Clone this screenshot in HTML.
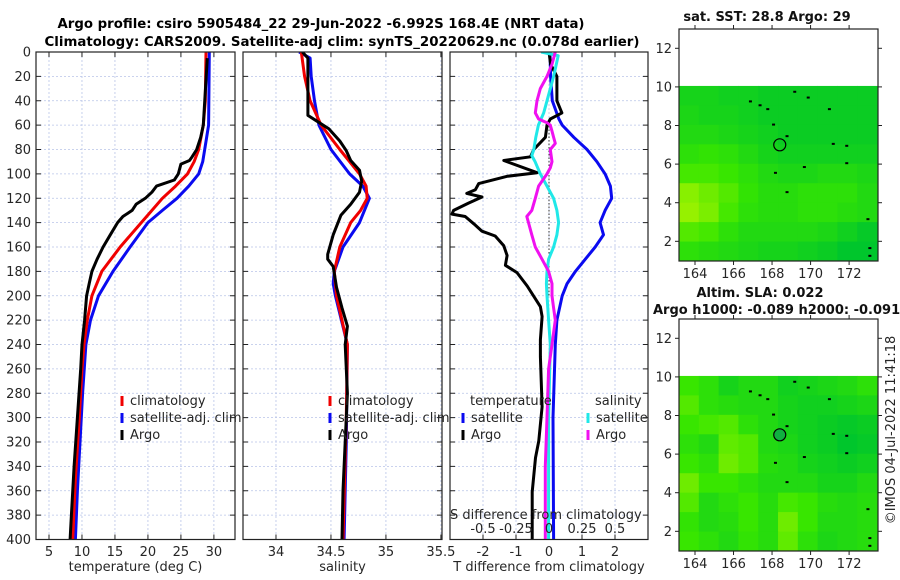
<!DOCTYPE html>
<html><head><meta charset="utf-8">
<style>
html,body{margin:0;padding:0;background:#fff;}
svg{display:block;font-family:"DejaVu Sans","Liberation Sans",sans-serif;}
</style></head>
<body>
<svg id="fig" width="900" height="580" viewBox="0 0 900 580" xmlns="http://www.w3.org/2000/svg">
<text x="321" y="28" text-anchor="middle" font-weight="bold" font-size="13" textLength="527" lengthAdjust="spacingAndGlyphs">Argo profile: csiro 5905484_22 29-Jun-2022 -6.992S 168.4E (NRT data)</text>
<text x="342" y="46" text-anchor="middle" font-weight="bold" font-size="13" textLength="595" lengthAdjust="spacingAndGlyphs">Climatology: CARS2009. Satellite-adj clim: synTS_20220629.nc (0.078d earlier)</text>
<g id="layer"></g>
</svg>
<script>
// ---------- data ----------
const depthTicks = [0,20,40,60,80,100,120,140,160,180,200,220,240,260,280,300,320,340,360,380,400];
const tTickVals = [5,10,15,20,25,30];
const sTickVals = [34,34.5,35,35.5];
const sTickLabels = ["34","34.5","35","35.5"];
const dTickVals = [-2,-1,0,1,2];
const sdTickVals = [-0.5,-0.25,0,0.25,0.5];
const sdTickLabels = ["-0.5","-0.25","0","0.25","0.5"];

// temperature profiles [depth, degC]
const tempClimDepth = [0,40,60,80,90,100,110,120,140,160,180,200,220,240,260,300,350,400];
const tempClimVal   = [28.8,28.7,28.4,27.7,27.0,26.0,24.2,22.2,19.0,15.8,13.0,11.5,10.8,10.3,10.0,9.6,9.0,8.6];
const tempSatDepth  = [0,60,80,90,100,110,120,130,140,160,180,200,220,240,280,320,360,400];
const tempSatVal    = [29.3,29.2,28.6,28.3,27.7,26.2,24.4,22.2,20.0,17.3,14.7,12.5,11.3,10.6,10.1,9.7,9.3,9.0];
const tempArgoDepth = [5,60,70,80,86,89,92,100,105,110,115,120,125,130,135,140,150,160,170,180,190,200,220,240,260,300,340,380,400];
const tempArgoVal   = [29.0,28.4,28.0,27.4,26.7,26.3,25.0,24.6,24.0,21.3,20.6,19.6,18.2,17.6,16.2,15.4,14.3,13.2,12.3,11.5,11.1,10.7,10.4,10.0,9.8,9.3,8.8,8.4,8.2];

// salinity profiles [depth, psu]
const salClimDepth = [0,20,40,60,80,100,110,120,130,140,160,180,200,240,300,400];
const salClimVal   = [34.23,34.26,34.31,34.41,34.58,34.76,34.82,34.83,34.77,34.68,34.58,34.53,34.55,34.65,34.64,34.61];
const salSatDepth  = [0,5,20,40,60,80,100,110,120,140,160,180,190,200,240,320,400];
const salSatVal    = [34.21,34.31,34.32,34.35,34.39,34.50,34.67,34.79,34.85,34.76,34.61,34.53,34.52,34.54,34.65,34.64,34.62];
const salArgoDepth = [0,5,40,52,56,63,73,81,89,97,106,115,125,134,150,166,170,176,193,210,225,240,280,320,360,400];
const salArgoVal   = [34.24,34.29,34.29,34.29,34.36,34.48,34.58,34.64,34.68,34.76,34.78,34.76,34.68,34.59,34.52,34.47,34.47,34.52,34.55,34.60,34.65,34.63,34.65,34.63,34.61,34.60];

// differences from climatology
const dTSatDepth  = [0,20,40,55,60,70,80,90,100,110,120,130,140,150,160,170,180,190,200,220,240,300,400];
const dTSatVal    = [0.03,0.05,0.1,0.3,0.4,0.75,1.15,1.45,1.7,1.86,1.9,1.7,1.55,1.65,1.4,1.1,0.8,0.55,0.4,0.24,0.19,0.12,0.14];
const dTArgoDepth = [0,10,20,40,50,55,60,70,80,86,89,99,102,108,113,116,119,124,130,133,135,141,147,151,159,167,175,181,192,209,217,236,250,291,319,333,361,400];
const dTArgoVal   = [0,0.05,0.24,0.24,0.39,0.04,-0.06,-0.11,-0.46,-0.56,-1.37,-0.36,-1.27,-2.13,-2.23,-2.49,-2.03,-2.44,-2.89,-2.94,-2.54,-2.28,-2.03,-1.63,-1.37,-1.27,-1.32,-0.97,-0.66,-0.26,-0.21,-0.26,-0.26,-0.21,-0.31,-0.41,-0.51,-0.51];
const dSSatDepth  = [0,3,20,40,50,60,70,80,85,90,100,110,120,130,140,150,160,170,180,190,200,220,240,300,400];
const dSSatVal    = [-0.06,0.07,0.035,-0.015,-0.04,-0.08,-0.1,-0.115,-0.13,-0.105,-0.066,-0.015,0.035,0.06,0.073,0.06,0.035,-0.003,-0.015,-0.02,-0.015,-0.003,0.01,-0.003,-0.003];
const dSArgoDepth = [0,10,20,30,40,50,55,58,60,65,70,75,80,90,95,100,110,120,130,135,140,150,160,170,180,190,200,210,220,240,260,300,340,400];
const dSArgoVal   = [0.048,0.023,-0.015,-0.066,-0.091,-0.104,-0.079,-0.015,0.01,0.023,0.035,0.048,0.01,0.023,0.01,-0.015,-0.079,-0.104,-0.13,-0.168,-0.155,-0.13,-0.104,-0.053,-0.003,0.023,0.023,0.035,0.048,0.023,-0.003,-0.015,-0.028,-0.028];

// maps: rows lat 10->1, cols lon 163.2->173.5 ; value 0=dark green .. 1=yellow-green
const sstGrid = [
 [0.2,0.2,0.15,0.15,0.1,0.1,0.1,0.1,0.1,0.1],
 [0.25,0.2,0.2,0.15,0.1,0.1,0.1,0.1,0.1,0.1],
 [0.3,0.3,0.25,0.2,0.15,0.1,0.1,0.1,0.1,0.1],
 [0.4,0.45,0.4,0.3,0.2,0.15,0.15,0.15,0.15,0.15],
 [0.55,0.55,0.5,0.4,0.3,0.25,0.25,0.3,0.3,0.25],
 [0.8,0.7,0.6,0.45,0.35,0.35,0.4,0.4,0.4,0.3],
 [0.85,0.75,0.55,0.4,0.35,0.35,0.4,0.4,0.35,0.3],
 [0.6,0.55,0.4,0.3,0.3,0.3,0.3,0.25,0.15,0.05],
 [0.4,0.35,0.3,0.25,0.2,0.2,0.15,0.1,0.0,0.0]];
const slaGrid = [
 [0.5,0.4,0.2,0.3,0.3,0.15,0.2,0.25,0.3,0.4],
 [0.6,0.4,0.35,0.3,0.3,0.2,0.15,0.15,0.2,0.25],
 [0.5,0.55,0.6,0.4,0.3,0.2,0.15,0.1,0.05,0.1],
 [0.4,0.3,0.65,0.6,0.3,0.25,0.15,0.1,0.0,0.05],
 [0.5,0.4,0.7,0.6,0.35,0.3,0.2,0.15,0.1,0.15],
 [0.7,0.5,0.5,0.4,0.3,0.3,0.3,0.2,0.2,0.3],
 [0.6,0.3,0.4,0.5,0.35,0.55,0.5,0.35,0.3,0.35],
 [0.45,0.3,0.35,0.5,0.35,0.7,0.5,0.3,0.3,0.35],
 [0.5,0.4,0.3,0.45,0.35,0.65,0.4,0.25,0.3,0.35]];
const mapLonTicks = [164,166,168,170,172];
const mapLatTicks = [2,4,6,8,10,12];
const argoLon = 168.4, argoLat = 7.0;

// ---------- drawing ----------
const NS = "http://www.w3.org/2000/svg";
const FS = 13;
const layer = document.getElementById('layer');
function mk(tag, attrs, parent){
  const e = document.createElementNS(NS, tag);
  for (const k in attrs) e.setAttribute(k, attrs[k]);
  (parent||layer).appendChild(e);
  return e;
}
const Y0 = 52, Y1 = 539.5;
function yD(d){ return Y0 + d/400*(Y1-Y0); }

function makeX(x0,x1,vmin,vmax){ return v => x0 + (v-vmin)/(vmax-vmin)*(x1-x0); }

function panelFrame(name,x0,x1,xs,xticks,labels,showY,title){
  const g = mk('g',{});
  
  
  depthTicks.forEach(d=>{
    const l = mk('line',{x1:x0,x2:x1,y1:yD(d),y2:yD(d),stroke:'#b8c4e8','stroke-width':0.8,'stroke-dasharray':'2,2'},g);
    
    
  });
  xticks.forEach(v=>{
    const X = xs(v);
    const l = mk('line',{x1:X,x2:X,y1:Y0,y2:Y1,stroke:'#b8c4e8','stroke-width':0.8,'stroke-dasharray':'2,2'},g);
    
    
  });
  depthTicks.forEach(d=>{
    mk('line',{x1:x0,x2:x0+5,y1:yD(d),y2:yD(d),stroke:'#222','stroke-width':1},g);
    mk('line',{x1:x1-5,x2:x1,y1:yD(d),y2:yD(d),stroke:'#222','stroke-width':1},g);
    if(showY){
      const t = mk('text',{x:x0-5,y:yD(d)+4.5,'text-anchor':'end','font-size':FS,fill:'#262626'},g);
      t.textContent = d;
      
      
    }
  });
  xticks.forEach((v,i)=>{
    const X = xs(v);
    mk('line',{x1:X,x2:X,y1:Y1,y2:Y1-5,stroke:'#222','stroke-width':1},g);
    mk('line',{x1:X,x2:X,y1:Y0,y2:Y0+5,stroke:'#222','stroke-width':1},g);
    if(labels){
      const t = mk('text',{x:X,y:556,'text-anchor':'middle','font-size':FS,fill:'#262626'},g);
      t.textContent = labels[i];
      
      
    }
  });
  const t = mk('text',{x:(x0+x1)/2,y:571,'text-anchor':'middle','font-size':FS,fill:'#262626'},g);
  t.textContent = title;
  
  
  return g;
}
function border(x0,x1){
  const r = mk('rect',{x:x0,y:Y0,width:x1-x0,height:Y1-Y0,fill:'none',stroke:'#222','stroke-width':1.2});
  
  
}
function profile(name,depths,vals,xs,color,x0,x1){
  const pts = depths.map((d,i)=>xs(vals[i]).toFixed(1)+','+yD(d).toFixed(1)).join(' ');
  const p = mk('polyline',{points:pts,fill:'none',stroke:color,'stroke-width':3,'stroke-linejoin':'round','clip-path':'url(#cp'+Math.round(x0)+')'});
  
  
}
function clip(x0,x1){
  let defs = document.getElementById('defs') || mk('defs',{id:'defs'});
  const c = mk('clipPath',{id:'cp'+Math.round(x0)},defs);
  mk('rect',{x:x0,y:Y0,width:x1-x0,height:Y1-Y0},c);
}
function legend(x,y,color,label,name){
  const m = mk('rect',{x:x-1.5,y:y-9,width:3,height:10,fill:color});
  
  
  const t = mk('text',{x:x+8,y:y,'font-size':FS,fill:'#262626'});
  t.textContent = label;
  
  
}

// panel 1 temperature
const P1 = [36,235], xT = makeX(36,235,3.03,33.2);
clip(P1[0],P1[1]);
panelFrame('temperature-panel',P1[0],P1[1],xT,tTickVals,tTickVals.map(String),true,'temperature (deg C)');
profile('temp-satellite-line',tempSatDepth,tempSatVal,xT,'#0a0af0',P1[0],P1[1]);
profile('temp-climatology-line',tempClimDepth,tempClimVal,xT,'#f00000',P1[0],P1[1]);
profile('temp-argo-line',tempArgoDepth,tempArgoVal,xT,'#000',P1[0],P1[1]);
border(P1[0],P1[1]);
legend(122,405,'#f00000','climatology','legend-climatology');
legend(122,422,'#0a0af0','satellite-adj. clim','legend-satellite-adj');
legend(122,439,'#000','Argo','legend-argo');

// panel 2 salinity
const P2 = [243,442], xS = makeX(243,442,33.7,35.51);
clip(P2[0],P2[1]);
panelFrame('salinity-panel',P2[0],P2[1],xS,sTickVals,sTickLabels,false,'salinity');
profile('sal-satellite-line',salSatDepth,salSatVal,xS,'#0a0af0',P2[0],P2[1]);
profile('sal-climatology-line',salClimDepth,salClimVal,xS,'#f00000',P2[0],P2[1]);
profile('sal-argo-line',salArgoDepth,salArgoVal,xS,'#000',P2[0],P2[1]);
border(P2[0],P2[1]);
legend(330,405,'#f00000','climatology','legend-climatology-2');
legend(330,422,'#0a0af0','satellite-adj. clim','legend-satellite-adj-2');
legend(330,439,'#000','Argo','legend-argo-2');

// panel 3 differences
const P3 = [450,648], xDT = makeX(450,648,-3,3), xDS = makeX(450,648,-0.75,0.75);
clip(P3[0],P3[1]);
panelFrame('difference-panel',P3[0],P3[1],xDT,dTickVals,dTickVals.map(String),false,'T difference from climatology');
const zl = mk('line',{x1:xDT(0),x2:xDT(0),y1:yD(55),y2:yD(200),stroke:'#333','stroke-width':1,'stroke-dasharray':'1.5,2'});


profile('dT-satellite-line',dTSatDepth,dTSatVal,xDT,'#0a0af0',P3[0],P3[1]);
profile('dT-argo-line',dTArgoDepth,dTArgoVal,xDT,'#000',P3[0],P3[1]);
profile('dS-satellite-line',dSSatDepth,dSSatVal,xDS,'#20e8e8',P3[0],P3[1]);
profile('dS-argo-line',dSArgoDepth,dSArgoVal,xDS,'#f010f0',P3[0],P3[1]);
border(P3[0],P3[1]);
(function(){
  const t1 = mk('text',{x:470,y:405,'font-size':FS,fill:'#262626'}); t1.textContent='temperature';
  
  
  const t2 = mk('text',{x:595,y:405,'font-size':FS,fill:'#262626'}); t2.textContent='salinity';
  
  
})();
legend(463,422,'#0a0af0','satellite','legend-dT-satellite');
legend(463,439,'#000','Argo','legend-dT-argo');
legend(588,422,'#20e8e8','satellite','legend-dS-satellite');
legend(588,439,'#f010f0','Argo','legend-dS-argo');
(function(){
  const t = mk('text',{x:450,y:519,'font-size':FS,fill:'#262626'}); t.textContent='S difference from climatology';
  
  
  sdTickVals.forEach((v,i)=>{
    const l = mk('text',{x:xDS(v),y:533,'text-anchor':'middle','font-size':FS,fill:'#262626'});
    l.textContent = sdTickLabels[i];
    
    
  });
})();

// ---------- maps ----------
function lerp(a,b,t){ return Math.round(a+(b-a)*t); }
function green(v){
  const c0=[0,198,44], c1=[56,230,0], c2=[190,246,0];
  let a,b,t;
  if(v<0.5){a=c0;b=c1;t=v/0.5;} else {a=c1;b=c2;t=(v-0.5)/0.5;}
  return 'rgb('+lerp(a[0],b[0],t)+','+lerp(a[1],b[1],t)+','+lerp(a[2],b[2],t)+')';
}
function drawMap(name,top,grid,circleFill){
  const L=679, R=878, B=top+232;
  const lonMin=163.17, lonMax=173.5, latMin=0.98, latMax=13;
  const mx = lon => L + (lon-lonMin)/(lonMax-lonMin)*(R-L);
  const my = lat => top + (latMax-lat)/(latMax-latMin)*(B-top);
  const g = mk('g',{});
  
  
  const nr = grid.length, nc = grid[0].length;
  const cw = (lonMax-0.05-lonMin)/nc;
  for(let r=0;r<nr;r++){
    for(let c=0;c<nc;c++){
      const lat1 = 10.05 - r*(10.05-latMin)/nr, lat2 = 10.05-(r+1)*(10.05-latMin)/nr;
      const lo1 = lonMin + c*cw, lo2 = lonMin+(c+1)*cw;
      const cell = mk('rect',{x:mx(lo1),y:my(lat1),width:mx(lo2)-mx(lo1)+0.5,height:my(lat2)-my(lat1)+0.5,fill:green(grid[r][c])},g);
      
      
    }
  }
  [[166.8,9.3],[167.3,9.1],[167.7,8.9],[169.1,9.8],[169.8,9.5],[170.9,8.9],[168.0,8.1],[168.7,7.5],[171.1,7.1],[171.8,7.0],[171.8,6.1],[169.6,5.9],[168.1,5.6],[168.7,4.6],[172.9,3.2],[173.0,1.7],[173.0,1.3]].forEach(p=>{
    const s = mk('rect',{x:mx(p[0]),y:my(p[1]),width:3,height:2,fill:'#000'},g);
    
    
  });
  const ci = mk('circle',{cx:mx(argoLon),cy:my(argoLat),r:6,fill:circleFill,stroke:'#000','stroke-width':1.2},g);
  
  
  const bd = mk('rect',{x:L,y:top,width:R-L,height:B-top,fill:'none',stroke:'#222','stroke-width':1.2},g);
  
  
  mapLonTicks.forEach(v=>{
    mk('line',{x1:mx(v),x2:mx(v),y1:B,y2:B+4,stroke:'#222'},g);
    mk('line',{x1:mx(v),x2:mx(v),y1:top,y2:top-4,stroke:'#222'},g);
    const t = mk('text',{x:mx(v),y:B+17,'text-anchor':'middle','font-size':FS,fill:'#262626'},g);
    t.textContent = v;
    
    
  });
  mapLatTicks.forEach(v=>{
    mk('line',{x1:L,x2:L-4,y1:my(v),y2:my(v),stroke:'#222'},g);
    mk('line',{x1:R,x2:R+4,y1:my(v),y2:my(v),stroke:'#222'},g);
    const t = mk('text',{x:L-7,y:my(v)+4.5,'text-anchor':'end','font-size':FS,fill:'#262626'},g);
    t.textContent = v;
    
    
  });
}
drawMap('sst-map',29,sstGrid,'none');
drawMap('sla-map',319,slaGrid,'#10b040');
(function(){
  const a = mk('text',{x:767,y:21,'text-anchor':'middle','font-weight':'bold','font-size':13,fill:'#111'});
  a.textContent='sat. SST: 28.8 Argo: 29';
  
  
  const b = mk('text',{x:760,y:297,'text-anchor':'middle','font-weight':'bold','font-size':13,fill:'#111'});
  b.textContent='Altim. SLA: 0.022';
  
  
  const c = mk('text',{x:653,y:314,'font-weight':'bold','font-size':13,fill:'#111'});
  c.textContent='Argo h1000: -0.089 h2000: -0.091';
  
  
  const d = mk('text',{x:0,y:0,'text-anchor':'middle','font-size':FS,fill:'#262626',transform:'translate(895,430) rotate(-90)'});
  d.textContent='©IMOS 04-Jul-2022 11:41:18';
  
  
})();
</script>
</body></html>
